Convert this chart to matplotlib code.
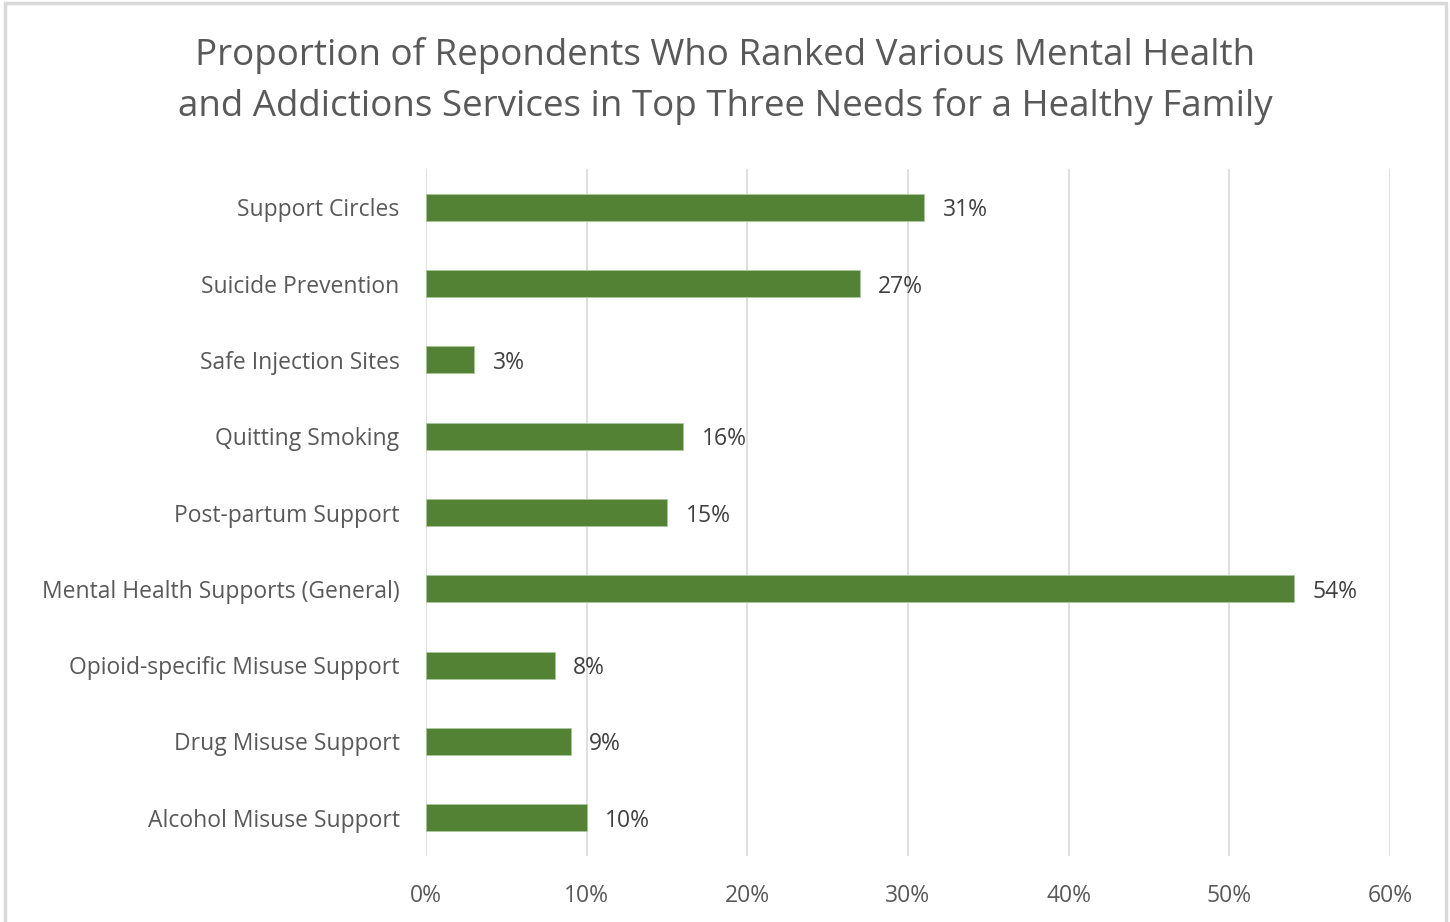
import matplotlib.pyplot as plt
from matplotlib.patches import Rectangle
from matplotlib.ticker import FuncFormatter

categories = [
    "Support Circles",
    "Suicide Prevention",
    "Safe Injection Sites",
    "Quitting Smoking",
    "Post-partum Support",
    "Mental Health Supports (General)",
    "Opioid-specific Misuse Support",
    "Drug Misuse Support",
    "Alcohol Misuse Support",
]
values = [31, 27, 3, 16, 15, 54, 8, 9, 10]
x_ticks = [0, 10, 20, 30, 40, 50, 60]

title = ("Proportion of Repondents Who Ranked Various Mental Health\n"
         "and Addictions Services in Top Three Needs for a Healthy Family")

plt.rcParams["font.family"] = ["Open Sans", "DejaVu Sans"]

fig = plt.figure(figsize=(14.5, 9.22), dpi=100)
ax = fig.add_axes([426 / 1450, (922 - 856) / 922, (1390 - 426) / 1450, (856 - 169) / 922])

# cornice esterna del grafico
fig.patches.append(Rectangle((5 / 1450, -0.01), 1441 / 1450, 1 - 3 / 922 + 0.01,
                             transform=fig.transFigure, fill=False,
                             edgecolor="#d9d9d9", linewidth=2.5))

pos = list(range(len(categories)))
ax.barh(pos, values, height=0.35, color="#548235", edgecolor="#a9c79a", linewidth=0.6, zorder=3)
ax.set_ylim(len(categories) - 0.5, -0.5)
ax.set_xlim(0, 60)
ax.set_xticks(x_ticks)
ax.xaxis.set_major_formatter(FuncFormatter(lambda v, _: f"{v:.0f}%"))
ax.set_yticks(pos)
ax.set_yticklabels(categories)

ax.grid(axis="x", color="#d9d9d9", linewidth=1.2, zorder=0)
for s in ax.spines.values():
    s.set_visible(False)
ax.tick_params(axis="both", length=0, colors="#595959", labelsize=16.5)
ax.tick_params(axis="x", pad=20)
ax.tick_params(axis="y", pad=19)

for p, v in zip(pos, values):
    ax.text(v + 1.15, p, f"{v}%", va="center_baseline", ha="left", fontsize=16.5, color="#404040")

fig.text(0.5, 0.912, title, ha="center", va="center", fontsize=26.5,
         color="#595959", linespacing=1.5)

fig.savefig("out.png", dpi=100)
